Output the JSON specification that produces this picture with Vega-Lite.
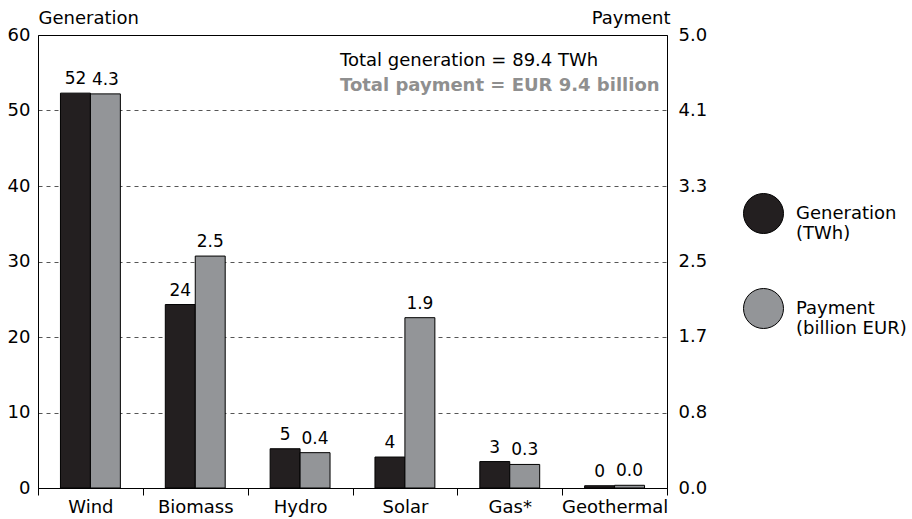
{
  "$schema": "https://vega.github.io/schema/vega-lite/v6.json",
  "width": 629,
  "height": 453,
  "autosize": {"type": "none"},
  "padding": {"left": 38, "top": 35, "right": 245, "bottom": 31},
  "config": {"font": "DejaVu Sans", "view": {"stroke": "#000", "strokeWidth": 1}},
  "title": {
    "text": "Total generation = 89.4 TWh",
    "subtitle": "Total payment = EUR 9.4 billion",
    "anchor": "start",
    "frame": "group",
    "dx": 302,
    "offset": -86,
    "fontSize": 18,
    "fontWeight": "normal",
    "color": "#000",
    "subtitleFontSize": 18,
    "subtitleFontWeight": "bold",
    "subtitleColor": "#8f8f8f",
    "subtitlePadding": 7
  },
  "data": {
    "values": [
      {"source": "Wind", "series": "Generation", "value": 52.3, "label": "52"},
      {"source": "Wind", "series": "Payment", "value": 4.35, "label": "4.3"},
      {"source": "Biomass", "series": "Generation", "value": 24.3, "label": "24"},
      {"source": "Biomass", "series": "Payment", "value": 2.56, "label": "2.5"},
      {"source": "Hydro", "series": "Generation", "value": 5.2, "label": "5"},
      {"source": "Hydro", "series": "Payment", "value": 0.39, "label": "0.4"},
      {"source": "Solar", "series": "Generation", "value": 4.1, "label": "4"},
      {"source": "Solar", "series": "Payment", "value": 1.88, "label": "1.9"},
      {"source": "Gas*", "series": "Generation", "value": 3.5, "label": "3"},
      {"source": "Gas*", "series": "Payment", "value": 0.26, "label": "0.3"},
      {"source": "Geothermal", "series": "Generation", "value": 0.3, "label": "0"},
      {"source": "Geothermal", "series": "Payment", "value": 0.03, "label": "0.0"}
    ]
  },
  "encoding": {
    "x": {
      "field": "source",
      "type": "nominal",
      "sort": ["Wind", "Biomass", "Hydro", "Solar", "Gas*", "Geothermal"],
      "scale": {"paddingInner": 0, "paddingOuter": 0},
      "axis": {
        "title": null,
        "labelAngle": 0,
        "labelFontSize": 18,
        "labelColor": "#000",
        "tickBand": "extent",
        "tickSize": 7,
        "tickColor": "#000",
        "domainColor": "#000",
        "labelPadding": 3
      }
    },
    "xOffset": {
      "field": "series",
      "type": "nominal",
      "scale": {"domain": ["Generation", "Payment"], "paddingInner": 0, "paddingOuter": 0.75}
    },
    "color": {
      "field": "series",
      "type": "nominal",
      "scale": {"domain": ["Generation", "Payment"], "range": ["#231f20", "#939598"]},
      "legend": {
        "title": null,
        "orient": "none",
        "legendX": 705,
        "legendY": 158,
        "symbolType": "circle",
        "symbolSize": 1600,
        "symbolStrokeColor": "#000",
        "symbolStrokeWidth": 1,
        "symbolOpacity": 1,
        "labelFontSize": 18,
        "labelColor": "#000",
        "labelOffset": 12,
        "labelLimit": 0,
        "rowPadding": 43,
        "labelExpr": "datum.label == 'Generation' ? ['Generation', '(TWh)'] : ['Payment', '(billion EUR)']"
      }
    }
  },
  "layer": [
    {
      "transform": [{"filter": "datum.series == 'Generation'"}],
      "encoding": {
        "y": {
          "field": "value",
          "type": "quantitative",
          "scale": {"domain": [0, 60], "nice": false},
          "axis": {
            "title": "Generation",
            "titleAngle": 0,
            "titleAlign": "left",
            "titleBaseline": "alphabetic",
            "titleX": 0,
            "titleY": -12,
            "titleFontSize": 18,
            "titleFontWeight": "normal",
            "titleColor": "#000",
            "values": [0, 10, 20, 30, 40, 50, 60],
            "labelFontSize": 18,
            "labelColor": "#000",
            "ticks": false,
            "labelPadding": 8,
            "grid": true,
            "gridDash": [4, 4],
            "gridColor": "#555",
            "gridOpacity": {"condition": {"test": "datum.value == 0 || datum.value == 60", "value": 0}, "value": 1},
            "domainColor": "#000"
          }
        }
      },
      "layer": [
        {"mark": {"type": "bar", "stroke": "#000", "strokeWidth": 1}},
        {
          "mark": {"type": "text", "baseline": "bottom", "dy": -5, "fontSize": 17, "color": "#000"},
          "encoding": {"text": {"field": "label"}, "color": {"value": "#000"}}
        }
      ]
    },
    {
      "transform": [{"filter": "datum.series == 'Payment'"}],
      "encoding": {
        "y": {
          "field": "value",
          "type": "quantitative",
          "scale": {"domain": [0, 5], "nice": false},
          "axis": {
            "orient": "right",
            "title": "Payment",
            "titleAngle": 0,
            "titleAlign": "right",
            "titleBaseline": "alphabetic",
            "titleX": 3,
            "titleY": -12,
            "titleFontSize": 18,
            "titleFontWeight": "normal",
            "titleColor": "#000",
            "values": [0, 0.833333, 1.666667, 2.5, 3.333333, 4.166667, 5],
            "labelExpr": "datum.value > 4 && datum.value < 4.5 ? '4.1' : format(datum.value, '.1f')",
            "labelFontSize": 18,
            "labelColor": "#000",
            "ticks": false,
            "labelPadding": 11,
            "grid": false,
            "domainColor": "#000"
          }
        }
      },
      "layer": [
        {"mark": {"type": "bar", "stroke": "#000", "strokeWidth": 1}},
        {
          "mark": {"type": "text", "baseline": "bottom", "dy": -5, "fontSize": 17, "color": "#000"},
          "encoding": {"text": {"field": "label"}, "color": {"value": "#000"}}
        }
      ]
    }
  ],
  "resolve": {"scale": {"y": "independent"}}
}
